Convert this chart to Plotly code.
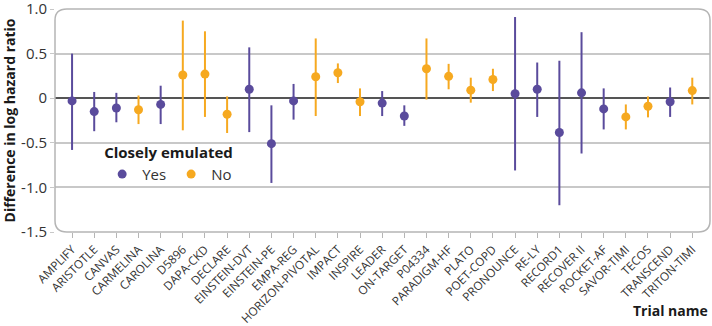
import plotly.graph_objects as go

trials = ["AMPLIFY", "ARISTOTLE", "CANVAS", "CARMELINA", "CAROLINA", "D5896", "DAPA-CKD",
          "DECLARE", "EINSTEIN-DVT", "EINSTEIN-PE", "EMPA-REG", "HORIZON-PIVOTAL", "IMPACT",
          "INSPIRE", "LEADER", "ON-TARGET", "P04334", "PARADIGM-HF", "PLATO", "POET-COPD",
          "PRONOUNCE", "RE-LY", "RECORD1", "RECOVER II", "ROCKET-AF", "SAVOR-TIMI", "TECOS",
          "TRANSCEND", "TRITON-TIMI"]
estimate = [-0.03, -0.15, -0.11, -0.13, -0.07, 0.26, 0.27, -0.18, 0.10, -0.51, -0.03, 0.24,
            0.285, -0.04, -0.055, -0.20, 0.33, 0.245, 0.09, 0.21, 0.05, 0.10, -0.385, 0.06,
            -0.12, -0.21, -0.09, -0.04, 0.085]
upper = [0.50, 0.07, 0.06, 0.03, 0.14, 0.87, 0.75, 0.02, 0.57, -0.08, 0.16, 0.67, 0.39, 0.11,
         0.08, -0.08, 0.67, 0.385, 0.23, 0.33, 0.91, 0.40, 0.42, 0.74, 0.11, -0.07, 0.02, 0.12,
         0.23]
lower = [-0.58, -0.37, -0.27, -0.29, -0.29, -0.36, -0.21, -0.39, -0.38, -0.95, -0.24, -0.20,
         0.17, -0.20, -0.20, -0.31, -0.015, 0.10, -0.05, 0.08, -0.81, -0.21, -1.20, -0.62,
         -0.35, -0.35, -0.215, -0.21, -0.07]
closely = ["Yes", "Yes", "Yes", "No", "Yes", "No", "No", "No", "Yes", "Yes", "Yes", "No", "No",
           "No", "Yes", "Yes", "No", "No", "No", "No", "Yes", "Yes", "Yes", "Yes", "Yes", "No",
           "No", "Yes", "No"]
ytick_vals = [1.0, 0.5, 0, -0.5, -1.0, -1.5]
ytick_text = ["1.0", "0.5", "0", "-0.5", "-1.0", "-1.5"]

colors = {"Yes": "#5a4b9c", "No": "#f6a920"}
FONT = "Open Sans"

fig = go.Figure()
for grp in ["Yes", "No"]:
    idx = [i for i, c in enumerate(closely) if c == grp]
    fig.add_trace(go.Scatter(
        x=[trials[i] for i in idx],
        y=[estimate[i] for i in idx],
        mode="markers",
        name=grp,
        marker=dict(color=colors[grp], size=9),
        error_y=dict(type="data", symmetric=False,
                     array=[upper[i] - estimate[i] for i in idx],
                     arrayminus=[estimate[i] - lower[i] for i in idx],
                     color=colors[grp], thickness=2, width=0),
    ))

# rounded plot border
rx, ry = 0.018, 0.05
path = (f"M {rx},0 L {1-rx},0 Q 1,0 1,{ry} L 1,{1-ry} Q 1,1 {1-rx},1 "
        f"L {rx},1 Q 0,1 0,{1-ry} L 0,{ry} Q 0,0 {rx},0 Z")
fig.add_shape(type="path", path=path, xref="paper", yref="paper",
              line=dict(color="#b5b5b5", width=1.5), layer="above")

fig.add_annotation(text="<b>Trial name</b>", xref="paper", yref="paper", x=1.0, y=-0.35,
                   xanchor="right", yanchor="middle", showarrow=False,
                   font=dict(family=FONT, size=14, color="#1a1a1a"))

fig.update_layout(
    width=712, height=326,
    margin=dict(l=55, r=2, t=9, b=94, autoexpand=False),
    paper_bgcolor="white", plot_bgcolor="white",
    font=dict(family=FONT, color="#333333"),
    showlegend=True,
    legend=dict(title=dict(text="<b>Closely emulated</b>", side="top",
                           font=dict(size=15, color="#1a1a1a")),
                orientation="h", x=0.072, y=0.42, xanchor="left", yanchor="top",
                bgcolor="rgba(255,255,255,0)", font=dict(size=15, color="#333333"),
                itemwidth=30, tracegroupgap=0),
    xaxis=dict(type="category", categoryorder="array", categoryarray=trials,
               range=[-0.77, 28.8], tickangle=-45, tickfont=dict(size=11.8, color="#333333"),
               ticks="outside", ticklen=5, tickcolor="#b5b5b5", showgrid=False,
               showline=False, zeroline=False, automargin=False),
    yaxis=dict(range=[-1.5, 1.0], tickvals=ytick_vals, ticktext=ytick_text,
               tickfont=dict(size=15, color="#333333"), ticklabeloverflow="allow",
               ticks="outside", ticklen=4, tickcolor="#c8c8c8",
               showgrid=True, gridcolor="#c8c8c8", gridwidth=1.5,
               zeroline=True, zerolinecolor="#555555", zerolinewidth=1.5,
               showline=False, automargin=False,
               title=dict(text="<b>Difference in log hazard ratio</b>",
                          font=dict(size=14, color="#1a1a1a"), standoff=4)),
)
fig.write_html("out.html", config={"displayModeBar": False},
               post_script="document.body.style.margin='0';")
